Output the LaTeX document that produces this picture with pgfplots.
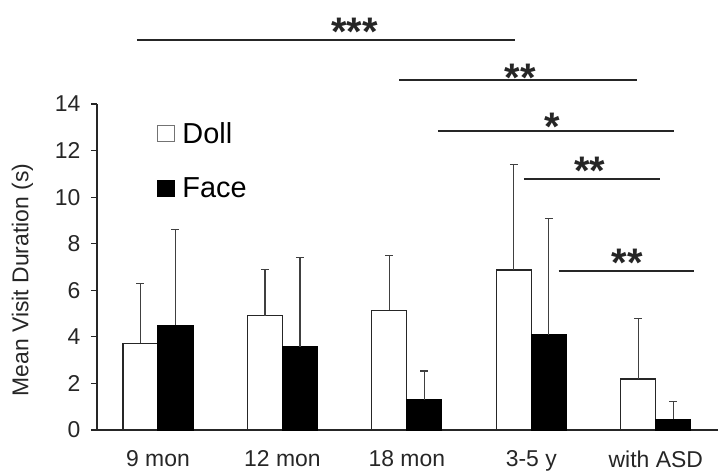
\documentclass[border=0pt]{standalone}
\usepackage{pgfplots}
\pgfplotsset{compat=1.18}
\usepackage{fontspec}
\setmainfont{Liberation Sans}
\begin{document}
\begin{tikzpicture}
\path[use as bounding box] (-97bp,-42bp) rectangle (623bp,430bp);
\begin{axis}[
  at={(0,0)}, anchor=south west,
  scale only axis, width=621bp, height=326bp,
  xmin=-0.49, xmax=4.5, ymin=0, ymax=14,
  axis x line*=bottom, axis y line*=left,
  axis line style={-, line width=1.2bp, black!85},
  ybar=0pt, bar width=35bp,
  xtick={0,1,2,3,4}, xticklabels={9 mon,12 mon,18 mon,3-5 y,with ASD},
  xtick style={draw=none},
  ytick={0,2,4,6,8,10,12,14}, yticklabels={0,2,4,6,8,10,12,14},
  tick align=outside, major tick length=6bp,
  ytick style={line width=1.1bp, black!85},
  tick label style={font=\fontsize{23}{26}\selectfont, black!85},
  xticklabel style={yshift=-11bp},
  yticklabel style={xshift=-7bp},
  ylabel={Mean Visit Duration (s)},
  every axis y label/.style={at={(axis description cs:-0.12,0.46)}, rotate=90, anchor=center, font=\fontsize{23}{26}\selectfont, black!85},
  clip=false,
  legend style={draw=none, fill=none, at={(axis description cs:0.097,0.95)}, anchor=north west,
    font=\fontsize{29}{32}\selectfont, row sep=29bp, inner sep=0pt, legend cell align=left},
]
\addplot[fill=white, draw=black!85, line width=1.1bp,
  legend image code/.code={\draw[fill=white,draw=black!55,line width=1bp] (0bp,-8bp) rectangle (17bp,8bp);},
  error bars/.cd, y dir=plus, y explicit,
  error bar style={line width=1.2bp, black!75},
  error mark options={rotate=90, mark size=4bp, line width=1.2bp, black!75}]
  coordinates {(0,3.73) +- (0,2.57) (1,4.9) +- (0,2.0) (2,5.15) +- (0,2.35) (3,6.87) +- (0,4.53) (4,2.19) +- (0,2.61)};
\addplot[fill=black, draw=black, line width=1.1bp,
  legend image code/.code={\draw[fill=black,draw=black,line width=1bp] (0bp,-8bp) rectangle (17bp,8bp);},
  error bars/.cd, y dir=plus, y explicit,
  error bar style={line width=1.2bp, black!75},
  error mark options={rotate=90, mark size=4bp, line width=1.2bp, black!75}]
  coordinates {(0,4.5) +- (0,4.1) (1,3.57) +- (0,3.83) (2,1.29) +- (0,1.24) (3,4.08) +- (0,5.0) (4,0.47) +- (0,0.77)};
\legend{\hspace{5bp}Doll, \hspace{5bp}Face}
% significance annotations
\draw[line width=1.4bp, black!85] (axis cs:-0.17,16.75) -- (axis cs:2.87,16.75);
\node[anchor=base, yshift=-23bp, font=\bfseries\fontsize{40}{40}\selectfont, black!85] at (axis cs:1.58,17.5) {***};
\draw[line width=1.4bp, black!85] (axis cs:1.94,15.03) -- (axis cs:3.85,15.03);
\node[anchor=base, yshift=-23bp, font=\bfseries\fontsize{40}{40}\selectfont, black!85] at (axis cs:2.91,15.54) {**};
\draw[line width=1.4bp, black!85] (axis cs:2.25,12.84) -- (axis cs:4.15,12.84);
\node[anchor=base, yshift=-23bp, font=\bfseries\fontsize{40}{40}\selectfont, black!85] at (axis cs:3.17,13.44) {*};
\draw[line width=1.4bp, black!85] (axis cs:2.94,10.78) -- (axis cs:4.03,10.78);
\node[anchor=base, yshift=-23bp, font=\bfseries\fontsize{40}{40}\selectfont, black!85] at (axis cs:3.47,11.55) {**};
\draw[line width=1.4bp, black!85] (axis cs:3.22,6.83) -- (axis cs:4.31,6.83);
\node[anchor=base, yshift=-23bp, font=\bfseries\fontsize{40}{40}\selectfont, black!85] at (axis cs:3.77,7.6) {**};
\end{axis}
\end{tikzpicture}
\end{document}
